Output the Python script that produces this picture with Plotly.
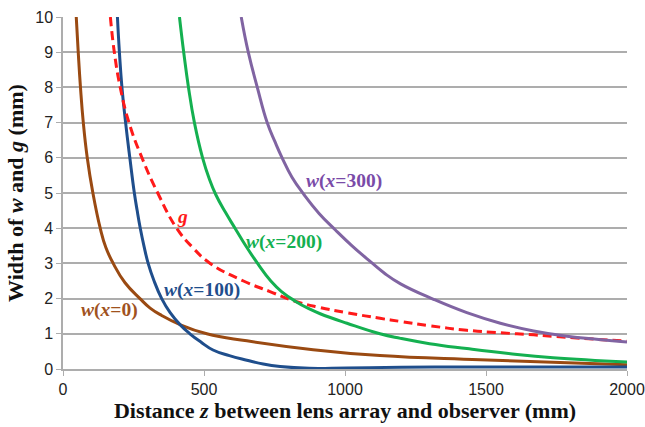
import plotly.graph_objects as go

# Distance z (mm) and widths (mm)
z_w0 = [47, 54, 62, 72, 86, 106, 132, 152, 178, 220, 273, 309, 350, 415, 510, 652, 887, 1124, 1479, 2000]
y_w0 = [10, 9, 8, 7, 6, 5, 4, 3.45, 3, 2.45, 2, 1.73, 1.52, 1.26, 1.0, 0.8, 0.55, 0.38, 0.26, 0.12]

z_w100 = [193, 200, 209, 222, 237, 253, 263, 274, 287, 302, 323, 350, 380, 415, 450, 490, 532, 590, 652, 710, 770, 873, 1007, 1200, 1500, 2000]
y_w100 = [10, 9, 8, 7, 6, 5, 4.5, 4, 3.5, 3, 2.5, 2, 1.6, 1.26, 1.0, 0.76, 0.54, 0.38, 0.25, 0.14, 0.07, 0.02, 0.03, 0.05, 0.06, 0.06]

z_g = [168, 182, 203, 234, 280, 336, 403, 460, 522, 640, 734, 817, 910, 1007, 1124, 1197, 1300, 1432, 1550, 1669, 1787, 2000]
y_g = [10, 9, 8, 7, 6, 5, 4, 3.45, 3, 2.5, 2.2, 1.94, 1.75, 1.6, 1.44, 1.35, 1.23, 1.1, 1.03, 0.97, 0.9, 0.79]

z_w200 = [413, 428, 445, 466, 495, 518, 542, 576, 610, 648, 690, 737, 775, 825, 870, 912, 1007, 1124, 1197, 1300, 1432, 1580, 1738, 2000]
y_w200 = [10, 9, 8, 7, 6, 5.42, 4.95, 4.45, 4, 3.5, 3, 2.5, 2.2, 1.92, 1.72, 1.57, 1.3, 1.0, 0.87, 0.72, 0.58, 0.44, 0.32, 0.2]

z_w300 = [632, 657, 689, 724, 752, 777, 812, 855, 908, 966, 1025, 1090, 1140, 1197, 1314, 1432, 1551, 1669, 1787, 1900, 2000]
y_w300 = [10, 9, 8, 7, 6.45, 6, 5.45, 4.95, 4.42, 3.95, 3.5, 3.05, 2.72, 2.42, 1.98, 1.6, 1.3, 1.08, 0.93, 0.84, 0.77]

x_ticks = [0, 500, 1000, 1500, 2000]
y_ticks = list(range(0, 11))

series = [
    ("w(x=0)", z_w0, y_w0, "#9A4A12", "solid"),
    ("w(x=100)", z_w100, y_w100, "#1F4E8C", "solid"),
    ("g", z_g, y_g, "#FF1A1A", "9px,5px"),
    ("w(x=200)", z_w200, y_w200, "#14B050", "solid"),
    ("w(x=300)", z_w300, y_w300, "#8064A2", "solid"),
]

labels = [
    ("<b><i>w</i>(<i>x</i>=0)</b>", 166, 1.68, "#A0521E"),
    ("<b><i>w</i>(<i>x</i>=100)</b>", 492, 2.24, "#1F4E8C"),
    ("<b><i>g</i></b>", 422, 4.33, "#FF1A1A"),
    ("<b><i>w</i>(<i>x</i>=200)</b>", 785, 3.62, "#14B050"),
    ("<b><i>w</i>(<i>x</i>=300)</b>", 995, 5.35, "#7A4BA8"),
]

fig = go.Figure()
for name, zs, ys, color, dash in series:
    fig.add_trace(go.Scatter(
        x=zs, y=ys, mode="lines", name=name,
        line=dict(color=color, width=3, dash=dash, shape="spline", smoothing=1.3),
        showlegend=False,
    ))

for text, xv, yv, color in labels:
    fig.add_annotation(x=xv, y=yv, text=text, showarrow=False,
                       font=dict(family="Liberation Serif", size=19.5, color=color))

grid_c = "#ADADAD"
fig.update_layout(
    width=645, height=427,
    margin=dict(l=63, r=18, t=17, b=58),
    paper_bgcolor="white", plot_bgcolor="white",
    font=dict(family="Liberation Sans", size=16, color="#222222"),
    xaxis=dict(
        range=[0, 2000], tickvals=x_ticks, showgrid=False, zeroline=False, automargin=False,
        showline=True, linecolor=grid_c, linewidth=1.5, ticklabeloverflow="allow",
        ticks="outside", ticklen=5, tickcolor=grid_c,
        title=dict(text="<b>Distance <i>z</i> between lens array and observer (mm)</b>",
                   font=dict(family="Liberation Serif", size=22, color="#111111"), standoff=6),
    ),
    yaxis=dict(
        range=[0, 10], tickvals=y_ticks, showgrid=True, gridcolor=grid_c, gridwidth=1.5,
        zeroline=False, showline=True, linecolor=grid_c, linewidth=1.5, automargin=False,
        ticks="outside", ticklen=5, tickcolor=grid_c,
        title=dict(text="<b>Width of <i>w</i> and <i>g</i> (mm)</b>",
                   font=dict(family="Liberation Serif", size=22, color="#111111"), standoff=6),
    ),
)

fig.write_html("out.html", config={"displayModeBar": False},
               post_script="document.body.style.margin='0';document.body.style.overflow='hidden';")
